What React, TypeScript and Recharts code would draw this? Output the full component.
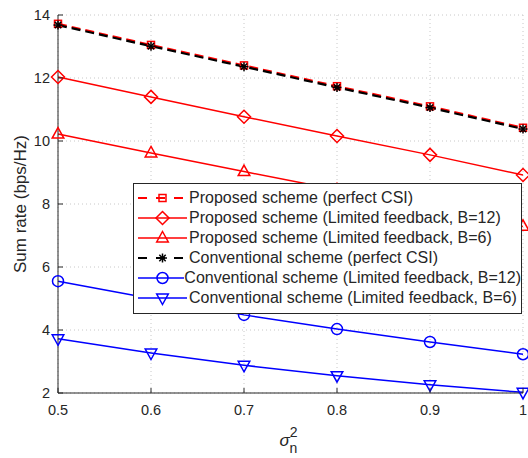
import React from "react";
import { LineChart, Line, XAxis, YAxis, CartesianGrid, Legend } from "recharts";

const sigmaValues = [0.5, 0.6, 0.7, 0.8, 0.9, 1.0];
const proposedPerfect = [13.72, 13.05, 12.4, 11.74, 11.1, 10.42];
const proposedB12 = [12.03, 11.4, 10.77, 10.16, 9.56, 8.92];
const proposedB6 = [10.22, 9.62, 9.03, 8.45, 7.87, 7.29];
const conventionalPerfect = [13.68, 13.01, 12.36, 11.7, 11.06, 10.38];
const conventionalB12 = [5.55, 5.0, 4.48, 4.03, 3.62, 3.23];
const conventionalB6 = [3.72, 3.27, 2.88, 2.55, 2.26, 2.02];

const xTicks = [0.5, 0.6, 0.7, 0.8, 0.9, 1];
const yTicks = [2, 4, 6, 8, 10, 12, 14];

const seriesNames = [
  "Proposed scheme (perfect CSI)",
  "Proposed scheme (Limited feedback, B=12)",
  "Proposed scheme (Limited feedback, B=6)",
  "Conventional scheme (perfect CSI)",
  "Conventional scheme (Limited feedback, B=12)",
  "Conventional scheme (Limited feedback, B=6)",
];

const data = sigmaValues.map((x, i) => ({
  x,
  pp: proposedPerfect[i],
  p12: proposedB12[i],
  p6: proposedB6[i],
  cp: conventionalPerfect[i],
  c12: conventionalB12[i],
  c6: conventionalB6[i],
}));

type MarkerType = "square" | "diamond" | "triangle" | "asterisk" | "circle" | "triangleDown";

const series: { key: string; name: string; color: string; dash?: string; width: number; marker: MarkerType }[] = [
  { key: "pp", name: seriesNames[0], color: "#ff0000", dash: "9 5", width: 2, marker: "square" },
  { key: "p12", name: seriesNames[1], color: "#ff0000", width: 1.5, marker: "diamond" },
  { key: "p6", name: seriesNames[2], color: "#ff0000", width: 1.5, marker: "triangle" },
  { key: "cp", name: seriesNames[3], color: "#000000", dash: "9 5", width: 2.2, marker: "asterisk" },
  { key: "c12", name: seriesNames[4], color: "#0000ff", width: 1.5, marker: "circle" },
  { key: "c6", name: seriesNames[5], color: "#0000ff", width: 1.5, marker: "triangleDown" },
];

const FONT = "Arial, 'Liberation Sans', Helvetica, sans-serif";
const AXIS = "#262626";

function Marker({ type, cx, cy, color }: { type: MarkerType; cx: number; cy: number; color: string }) {
  const common = { fill: "none", stroke: color, strokeWidth: 1.5 };
  switch (type) {
    case "square":
      return <rect x={cx - 3.5} y={cy - 3.5} width={7} height={7} {...common} />;
    case "diamond":
      return <polygon points={`${cx},${cy - 6.5} ${cx + 6.5},${cy} ${cx},${cy + 6.5} ${cx - 6.5},${cy}`} {...common} />;
    case "triangle":
      return <polygon points={`${cx},${cy - 6.5} ${cx + 5.8},${cy + 4} ${cx - 5.8},${cy + 4}`} {...common} />;
    case "triangleDown":
      return <polygon points={`${cx},${cy + 6.5} ${cx + 5.8},${cy - 4} ${cx - 5.8},${cy - 4}`} {...common} />;
    case "circle":
      return <circle cx={cx} cy={cy} r={5.5} {...common} />;
    case "asterisk": {
      const r = 4.5;
      const d = r * 0.707;
      return (
        <g stroke={color} strokeWidth={1.5}>
          <line x1={cx - r} y1={cy} x2={cx + r} y2={cy} />
          <line x1={cx} y1={cy - r} x2={cx} y2={cy + r} />
          <line x1={cx - d} y1={cy - d} x2={cx + d} y2={cy + d} />
          <line x1={cx - d} y1={cy + d} x2={cx + d} y2={cy - d} />
        </g>
      );
    }
  }
  return null;
}

const makeDot = (type: MarkerType, color: string) => (props: any) => {
  const { cx, cy, index } = props;
  if (cx == null || cy == null) return <g key={`d-${index}`} />;
  return (
    <g key={`d-${type}-${index}`}>
      <Marker type={type} cx={cx} cy={cy} color={color} />
    </g>
  );
};

const LeftTick = (props: any) => {
  const { x, y, payload } = props;
  return (
    <g>
      <line x1={x + 8} y1={y} x2={x + 13} y2={y} stroke={AXIS} strokeWidth={1} />
      <text x={x} y={y} dy="0.35em" textAnchor="end" fontSize={14.5} fill={AXIS} fontFamily={FONT}>
        {payload.value}
      </text>
    </g>
  );
};

const BottomTick = (props: any) => {
  const { x, y, payload } = props;
  return (
    <g>
      <line x1={x} y1={y - 12} x2={x} y2={y - 17} stroke={AXIS} strokeWidth={1} />
      <text x={x} y={y} dy="0.71em" textAnchor="middle" fontSize={14.5} fill={AXIS} fontFamily={FONT}>
        {payload.value}
      </text>
    </g>
  );
};

const TopTick = (props: any) => {
  const { x, y } = props;
  return <line x1={x} y1={y} x2={x} y2={y + 5} stroke={AXIS} strokeWidth={1} />;
};

const RightTick = (props: any) => {
  const { x, y } = props;
  return <line x1={x} y1={y} x2={x - 5} y2={y} stroke={AXIS} strokeWidth={1} />;
};

const XLabel = (props: any) => {
  const vb = props.viewBox || {};
  const cx = vb.x + vb.width / 2 - 11;
  return (
    <text x={cx} y={446} fontFamily={FONT} fill={AXIS}>
      <tspan fontSize={17} fontStyle="italic">σ</tspan>
      <tspan fontSize={14} dx={0} dy={-9}>2</tspan>
      <tspan fontSize={14} dx={-8} dy={16}>n</tspan>
    </text>
  );
};

const YLabel = (props: any) => {
  const vb = props.viewBox || {};
  const cy = vb.y + vb.height / 2;
  return (
    <text
      x={20}
      y={cy}
      transform={`rotate(-90 20 ${cy})`}
      textAnchor="middle"
      dominantBaseline="central"
      fontSize={17}
      fill={AXIS}
      fontFamily={FONT}
    >
      Sum rate (bps/Hz)
    </text>
  );
};

const LegendContent = () => (
  <div
    style={{
      border: `1px solid ${AXIS}`,
      background: "#ffffff",
      width: 389,
      boxSizing: "border-box",
      padding: "4px 0 5px 0",
      fontFamily: FONT,
    }}
  >
    {series.map((s) => (
      <div key={s.key} style={{ display: "flex", alignItems: "center", height: 20 }}>
        <svg width={55} height={20} style={{ display: "block" }}>
          <line x1={4} y1={10} x2={53} y2={10} stroke={s.color} strokeWidth={s.width} strokeDasharray={s.dash ? "9 9" : undefined} />
          <Marker type={s.marker} cx={28.5} cy={10} color={s.color} />
        </svg>
        <span style={{ fontSize: 16, color: AXIS, whiteSpace: "nowrap", lineHeight: "20px" }}>{s.name}</span>
      </div>
    ))}
  </div>
);

export default function App() {
  return (
    <div style={{ position: "absolute", left: 0, top: 0, width: 528, height: 458, background: "#ffffff" }}>
      <LineChart width={528} height={458} data={data} margin={{ top: 15, right: 5, left: 8, bottom: 35 }}>
        <CartesianGrid stroke="#c8c8c8" strokeDasharray="1 3" />
        <XAxis
          dataKey="x"
          type="number"
          domain={[0.5, 1]}
          ticks={xTicks}
          tickSize={0}
          tickMargin={12}
          height={30}
          axisLine={{ stroke: AXIS, strokeWidth: 1 }}
          tick={<BottomTick />}
          tickLine={false}
          interval={0}
          label={{ content: <XLabel /> } as any}
        />
        <XAxis
          xAxisId="top"
          orientation="top"
          dataKey="x"
          type="number"
          domain={[0.5, 1]}
          ticks={xTicks}
          tickSize={0}
          tickMargin={0}
          height={0}
          axisLine={{ stroke: AXIS, strokeWidth: 1 }}
          tick={<TopTick />}
          tickLine={false}
          interval={0}
        />
        <YAxis
          type="number"
          domain={[2, 14]}
          ticks={yTicks}
          tickSize={0}
          tickMargin={8}
          width={50}
          axisLine={{ stroke: AXIS, strokeWidth: 1 }}
          tick={<LeftTick />}
          tickLine={false}
          interval={0}
          label={{ content: <YLabel /> } as any}
        />
        <YAxis
          yAxisId="right"
          orientation="right"
          type="number"
          domain={[2, 14]}
          ticks={yTicks}
          tickSize={0}
          tickMargin={0}
          width={0}
          axisLine={{ stroke: AXIS, strokeWidth: 1 }}
          tick={<RightTick />}
          tickLine={false}
          interval={0}
        />
        {series.map((s) => (
          <Line
            key={s.key}
            dataKey={s.key}
            name={s.name}
            stroke={s.color}
            strokeWidth={s.width}
            strokeDasharray={s.dash}
            dot={makeDot(s.marker, s.color)}
            activeDot={false}
            isAnimationActive={false}
            type="linear"
          />
        ))}
        <Legend
          layout="vertical"
          align="center"
          verticalAlign="middle"
          content={<LegendContent />}
          wrapperStyle={{ left: 133, top: 183, width: 389, right: "auto", bottom: "auto" }}
        />
      </LineChart>
    </div>
  );
}
